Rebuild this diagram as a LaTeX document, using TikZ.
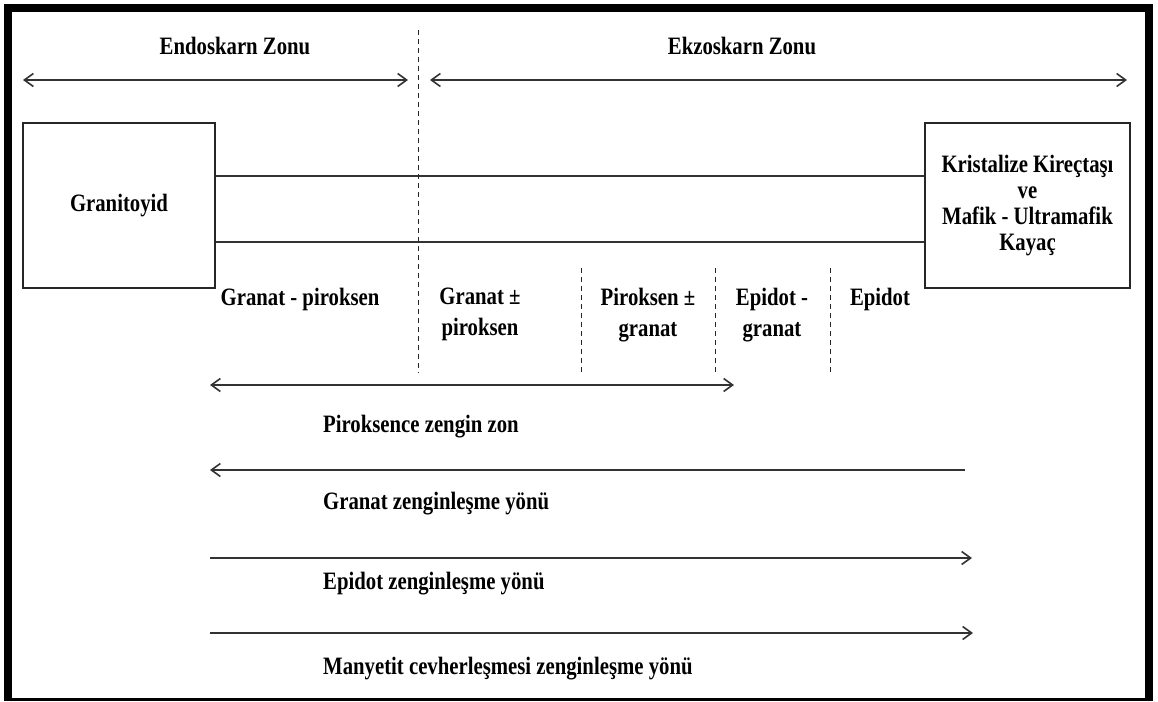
\documentclass[tikz,border=0pt]{standalone}
\usepackage{fontspec}
\setmainfont{Liberation Serif}[FakeStretch=0.83]
\usetikzlibrary{arrows.meta, positioning}

\begin{document}
\begin{tikzpicture}[
  x=1pt, y=-1pt,
  >={Straight Barb[length=9pt,width=13pt]},
  rock/.style = {draw=black!85, line width=1.4pt, align=center,
                 minimum height=165pt, inner sep=0pt,
                 font=\fontsize{25}{26}\selectfont\bfseries},
  lbl/.style  = {font=\fontsize{25}{31}\selectfont\bfseries,
                 inner sep=0pt, align=center},
  zone/.style = {draw=black!85, line width=1pt, dash pattern=on 5pt off 4pt},
  flow/.style = {draw=black!80, line width=1.6pt},
]
  \useasboundingbox (0,0) rectangle (1158,701);

  % page frame
  \fill (4,4) rectangle (12,701);
  \fill (4,4) rectangle (1153,12);
  \fill (1145,4) rectangle (1153,701);
  \fill (4,698) rectangle (1153,701);

  % zone titles
  \node[lbl, anchor=base] (endo) at (235,55) {Endoskarn Zonu};
  \node[lbl, anchor=base] (ekzo) at (742,55) {Ekzoskarn Zonu};

  \coordinate (endoL) at (23,80);
  \coordinate (endoR) at (408,80);
  \coordinate (ekzoL) at (430,80);
  \coordinate (ekzoR) at (1127,80);
  \draw[flow, <->] (endoL) -- (endoR);
  \draw[flow, <->] (ekzoL) -- (ekzoR);

  % rocks
  \node[rock, minimum width=192pt] (granit) at (119,205.5) {Granitoyid};
  \node[rock, minimum width=205pt] (kirec)  at (1027.5,205.5)
      {Kristalize Kireçtaşı\\ve\\Mafik - Ultramafik\\Kayaç};

  \coordinate (upper) at (0,176);
  \coordinate (lower) at (0,242);
  \draw[flow, line width=1.4pt] (granit.east |- upper) -- (kirec.west |- upper);
  \draw[flow, line width=1.4pt] (granit.east |- lower) -- (kirec.west |- lower);

  % zone borders
  \coordinate (b1t) at (418,30);  \coordinate (b1b) at (418,373);
  \coordinate (b2t) at (581,268); \coordinate (b2b) at (581,375);
  \coordinate (b3t) at (715,268); \coordinate (b3b) at (715,375);
  \coordinate (b4t) at (830,268); \coordinate (b4b) at (830,375);
  \draw[zone] (b1t) -- (b1b);
  \draw[zone] (b2t) -- (b2b);
  \draw[zone] (b3t) -- (b3b);
  \draw[zone] (b4t) -- (b4b);

  % mineral zones
  \node[lbl, anchor=base]  (grpi)  at (300,305)   {Granat - piroksen};
  \node[lbl, anchor=north] (grpm)  at (480,288)   {Granat ±\\piroksen};
  \node[lbl, anchor=north] (pigr)  at (648,288)   {Piroksen ±\\granat};
  \node[lbl, anchor=north] (epgr)  at (772,288)   {Epidot -\\granat};
  \node[lbl, anchor=base]  (epi)   at (880,305)   {Epidot};

  % trends
  \coordinate (piroL) at (210,385); \coordinate (piroR) at (734,385);
  \coordinate (granL) at (210,470); \coordinate (granR) at (965,470);
  \coordinate (epidL) at (210,558); \coordinate (epidR) at (972,558);
  \coordinate (manyL) at (210,633); \coordinate (manyR) at (973,633);

  \draw[flow, <->] (piroL) -- (piroR);
  \draw[flow, ->]  (granR) -- (granL);
  \draw[flow, ->]  (epidL) -- (epidR);
  \draw[flow, ->]  (manyL) -- (manyR);

  \node[lbl, anchor=base west] (piroT) at (323,432) {Piroksence zengin zon};
  \node[lbl, anchor=base west] (granT) at (323,509) {Granat zenginleşme yönü};
  \node[lbl, anchor=base west] (epidT) at (323,589) {Epidot zenginleşme yönü};
  \node[lbl, anchor=base west] (manyT) at (323,674) {Manyetit cevherleşmesi zenginleşme yönü};
\end{tikzpicture}
\end{document}
